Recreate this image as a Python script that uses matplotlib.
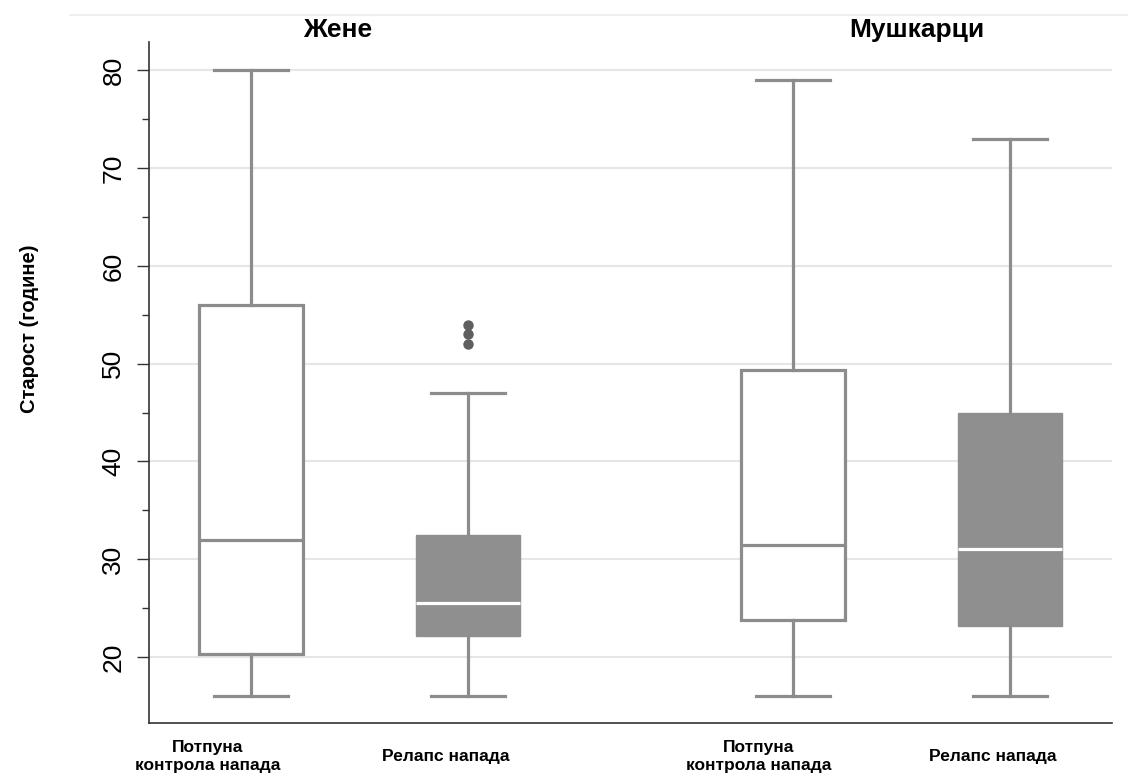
import matplotlib.pyplot as plt
from matplotlib.lines import Line2D

plt.rcParams['font.family'] = ['Liberation Sans', 'DejaVu Sans']

# age summaries per group: women (control, relapse), men (control, relapse)
groups = ['Жене', 'Мушкарци']
categories = ['Потпуна\nконтрола напада', 'Релапс напада',
              'Потпуна\nконтрола напада', 'Релапс напада']
whis_low = [16, 16, 16, 16]
q1 = [20.3, 22.1, 23.8, 23.2]
median = [32.0, 25.5, 31.5, 31.0]
q3 = [56.0, 32.5, 49.4, 45.0]
whis_high = [80, 47, 79, 73]
outliers = [[], [52, 53, 54], [], []]
filled = [False, True, False, True]

positions = [1, 2, 3.5, 4.5]
label_pos = [0.80, 1.90, 3.34, 4.42]
title_pos = [1.40, 4.07]

gray = '#8f8f8f'
edge = '#8c8c8c'

fig = plt.figure(figsize=(11.28, 7.75), dpi=100)
ax = fig.add_axes([0.1321, 0.0671, 0.8537, 0.8787])

stats = []
for i in range(len(categories)):
    stats.append(dict(whislo=whis_low[i], q1=q1[i], med=median[i], q3=q3[i],
                      whishi=whis_high[i], fliers=outliers[i]))

bp = ax.bxp(stats, positions=positions, widths=0.48, patch_artist=True,
            capwidths=0.34, manage_ticks=False,
            whiskerprops=dict(color=edge, linewidth=2.3),
            capprops=dict(color=edge, linewidth=2.3),
            flierprops=dict(marker='o', markerfacecolor='#5f5f5f',
                            markeredgecolor='#5f5f5f', markersize=6.5))
for i, box in enumerate(bp['boxes']):
    if filled[i]:
        box.set_facecolor(gray)
        box.set_edgecolor(gray)
        box.set_linewidth(1)
        bp['medians'][i].set_color('white')
    else:
        box.set_facecolor('white')
        box.set_edgecolor(edge)
        box.set_linewidth(2.3)
        bp['medians'][i].set_color(edge)
    bp['medians'][i].set_linewidth(2.3)

ax.set_xlim(0.53, 4.97)
ax.set_ylim(13.25, 82.9)
ax.set_yticks([20, 30, 40, 50, 60, 70, 80])
ax.set_yticks([25, 35, 45, 55, 65, 75], minor=True)
ax.grid(axis='y', color='#e6e6e6', linewidth=1.5)
ax.set_axisbelow(True)
ax.tick_params(axis='y', which='major', length=9, width=1, labelsize=19,
               labelrotation=90, pad=8, color='#333333')
ax.tick_params(axis='y', which='minor', length=5, width=1, color='#333333')
for lab in ax.get_yticklabels():
    lab.set_va('center')

# category labels centred vertically on a common line below the axis
ax.set_xticks(label_pos)
ax.set_xticklabels(categories, fontsize=12.5, fontweight='bold', linespacing=1.3)
ax.tick_params(axis='x', length=0, pad=24)
for lab in ax.get_xticklabels():
    lab.set_va('center')

ax.set_ylabel('Старост (године)', fontsize=14.5, fontweight='bold')
ax.yaxis.set_label_coords(-0.1146, 0.579)

for s in ['top', 'right']:
    ax.spines[s].set_visible(False)
for s in ['left', 'bottom']:
    ax.spines[s].set_color('#333333')
    ax.spines[s].set_linewidth(1.2)

for g, xp in zip(groups, title_pos):
    ax.text(xp, 84.1, g, ha='center', va='center', fontsize=19,
            fontweight='bold', clip_on=False)

fig.add_artist(Line2D([70 / 1128, 1.0], [1 - 15 / 775, 1 - 15 / 775],
                      color='#f0f0f0', linewidth=1.5))

fig.savefig('out.png', dpi=100)
